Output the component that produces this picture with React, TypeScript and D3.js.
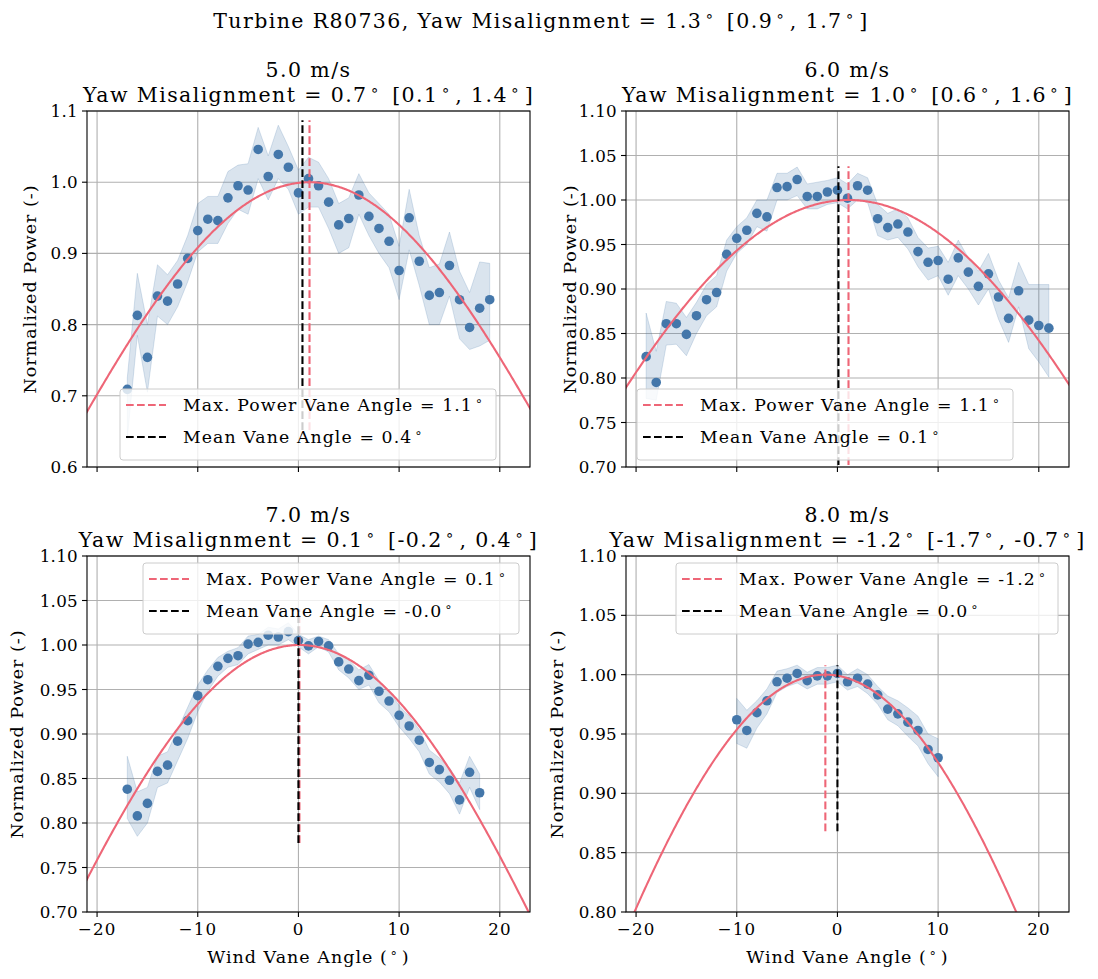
import React from "react";
import * as d3 from "d3";

const FONT = "DejaVu Serif, serif";
const BLUE = "#4477AA";
const RED = "#EE6677";

const SUPTITLE = "Turbine R80736, Yaw Misalignment = 1.3° [0.9°, 1.7°]";
const X_DOMAIN: [number, number] = [-21, 23];
const X_TICKS = [-20, -10, 0, 10, 20];

// 5.0 m/s
const vane5 = [-17, -16, -15, -14, -13, -12, -11, -10, -9, -8, -7, -6, -5, -4, -3, -2, -1, 0, 1, 2, 3, 4, 5, 6, 7, 8, 9, 10, 11, 12, 13, 14, 15, 16, 17, 18, 19];
const power5 = [0.709, 0.813, 0.754, 0.840, 0.833, 0.857, 0.893, 0.932, 0.948, 0.946, 0.978, 0.995, 0.989, 1.046, 1.008, 1.039, 1.021, 0.985, 1.005, 0.995, 0.972, 0.940, 0.949, 0.982, 0.952, 0.935, 0.917, 0.876, 0.950, 0.889, 0.841, 0.845, 0.883, 0.835, 0.796, 0.823, 0.835];
const upper5 = [0.725, 0.872, 0.800, 0.884, 0.870, 0.890, 0.925, 0.970, 0.980, 0.980, 1.015, 1.024, 1.026, 1.077, 1.037, 1.080, 1.050, 1.017, 1.035, 1.028, 1.005, 0.970, 0.978, 1.012, 0.985, 0.970, 0.955, 0.910, 0.990, 0.925, 0.880, 0.885, 0.930, 0.875, 0.845, 0.888, 0.886];
const lower5 = [0.640, 0.785, 0.705, 0.812, 0.800, 0.825, 0.860, 0.902, 0.914, 0.914, 0.942, 0.962, 0.955, 1.005, 0.975, 1.005, 0.990, 0.955, 0.965, 0.965, 0.935, 0.900, 0.908, 0.955, 0.925, 0.900, 0.880, 0.835, 0.905, 0.855, 0.800, 0.800, 0.840, 0.780, 0.765, 0.770, 0.778];

// 6.0 m/s
const vane6 = [-19, -18, -17, -16, -15, -14, -13, -12, -11, -10, -9, -8, -7, -6, -5, -4, -3, -2, -1, 0, 1, 2, 3, 4, 5, 6, 7, 8, 9, 10, 11, 12, 13, 14, 15, 16, 17, 18, 19, 20, 21];
const power6 = [0.824, 0.795, 0.861, 0.861, 0.849, 0.870, 0.888, 0.896, 0.939, 0.957, 0.966, 0.985, 0.981, 1.014, 1.015, 1.023, 1.004, 1.004, 1.009, 1.011, 1.002, 1.016, 1.011, 0.979, 0.969, 0.973, 0.964, 0.942, 0.930, 0.932, 0.911, 0.935, 0.919, 0.903, 0.917, 0.891, 0.867, 0.898, 0.865, 0.859, 0.856];
const upper6 = [0.873, 0.830, 0.886, 0.884, 0.868, 0.885, 0.905, 0.915, 0.955, 0.970, 0.980, 1.000, 1.000, 1.030, 1.030, 1.037, 1.018, 1.020, 1.022, 1.025, 1.018, 1.030, 1.025, 0.995, 0.985, 0.990, 0.980, 0.958, 0.946, 0.948, 0.930, 0.955, 0.935, 0.920, 0.940, 0.910, 0.890, 0.930, 0.905, 0.905, 0.905];
const lower6 = [0.777, 0.775, 0.837, 0.838, 0.825, 0.850, 0.870, 0.880, 0.920, 0.940, 0.950, 0.970, 0.965, 1.000, 1.000, 1.005, 0.990, 0.990, 0.995, 0.997, 0.990, 1.000, 0.997, 0.960, 0.955, 0.958, 0.945, 0.925, 0.910, 0.915, 0.893, 0.915, 0.900, 0.882, 0.900, 0.866, 0.840, 0.880, 0.833, 0.818, 0.801];

// 7.0 m/s
const vane7 = [-17, -16, -15, -14, -13, -12, -11, -10, -9, -8, -7, -6, -5, -4, -3, -2, -1, 0, 1, 2, 3, 4, 5, 6, 7, 8, 9, 10, 11, 12, 13, 14, 15, 16, 17, 18];
const power7 = [0.838, 0.808, 0.822, 0.858, 0.865, 0.892, 0.915, 0.943, 0.961, 0.976, 0.985, 0.988, 1.001, 1.003, 1.011, 1.009, 1.015, 1.005, 0.999, 1.004, 0.999, 0.981, 0.973, 0.960, 0.966, 0.948, 0.937, 0.921, 0.909, 0.893, 0.868, 0.860, 0.848, 0.826, 0.857, 0.834];
const upper7 = [0.875, 0.835, 0.840, 0.875, 0.880, 0.905, 0.930, 0.955, 0.972, 0.986, 0.993, 0.997, 1.010, 1.012, 1.020, 1.018, 1.025, 1.012, 1.006, 1.010, 1.006, 0.990, 0.983, 0.972, 0.978, 0.960, 0.948, 0.932, 0.920, 0.905, 0.882, 0.873, 0.862, 0.845, 0.875, 0.855];
const lower7 = [0.805, 0.785, 0.800, 0.840, 0.845, 0.870, 0.895, 0.925, 0.948, 0.965, 0.975, 0.978, 0.990, 0.995, 1.000, 1.000, 1.006, 0.998, 0.990, 0.998, 0.992, 0.972, 0.963, 0.950, 0.955, 0.935, 0.925, 0.908, 0.895, 0.880, 0.855, 0.846, 0.833, 0.810, 0.840, 0.815];

// 8.0 m/s
const vane8 = [-10, -9, -8, -7, -6, -5, -4, -3, -2, -1, 0, 1, 2, 3, 4, 5, 6, 7, 8, 9, 10];
const power8 = [0.962, 0.953, 0.968, 0.978, 0.994, 0.997, 1.001, 0.995, 0.999, 0.999, 1.001, 0.994, 0.997, 0.992, 0.983, 0.971, 0.967, 0.960, 0.953, 0.937, 0.930];
const upper8 = [0.980, 0.970, 0.978, 0.988, 1.003, 1.005, 1.008, 1.002, 1.006, 1.006, 1.008, 1.000, 1.005, 1.000, 0.990, 0.982, 0.978, 0.972, 0.965, 0.950, 0.946];
const lower8 = [0.942, 0.938, 0.955, 0.967, 0.985, 0.990, 0.993, 0.988, 0.992, 0.992, 0.994, 0.987, 0.990, 0.984, 0.975, 0.962, 0.957, 0.948, 0.940, 0.925, 0.914];

// per-panel summary numbers
const speeds = ["5.0 m/s", "6.0 m/s", "7.0 m/s", "8.0 m/s"];
const yawTitles = [
  "Yaw Misalignment = 0.7° [0.1°, 1.4°]",
  "Yaw Misalignment = 1.0° [0.6°, 1.6°]",
  "Yaw Misalignment = 0.1° [-0.2°, 0.4°]",
  "Yaw Misalignment = -1.2° [-1.7°, -0.7°]",
];
const maxPowerAngle = [1.1, 1.1, 0.1, -1.2];
const meanVaneLabels = ["0.4", "0.1", "-0.0", "0.0"];
const meanVaneAngle = [0.4, 0.1, -0.0, 0.0];
const fitExponent = [5.1, 3.1, 4.4, 4.0];
const vlineSpan: [number, number][] = [[0.652, 1.087], [0.69, 1.038], [0.7775, 1.04], [0.868, 1.008]];
const yDomains: [number, number][] = [[0.6, 1.1], [0.7, 1.1], [0.7, 1.1], [0.8, 1.1]];
const yTickSets = [
  [0.6, 0.7, 0.8, 0.9, 1.0, 1.1],
  [0.7, 0.75, 0.8, 0.85, 0.9, 0.95, 1.0, 1.05, 1.1],
  [0.7, 0.75, 0.8, 0.85, 0.9, 0.95, 1.0, 1.05, 1.1],
  [0.8, 0.85, 0.9, 0.95, 1.0, 1.05, 1.1],
];

const W = 443, H = 356;
const TICK_FS = 16.7, TICK_LS = 0.3;
const LABEL_FS = 17.5, LABEL_LS = 1.0;
const LEG_FS = 17.3, LEG_LS = 1.1;
const TITLE_FS = 20.5, TITLE_LS = 1.4;

// renders "°" as a raised small ring, like matplotlib mathtext $^\circ$
function Deg({ text, size }: { text: string; size: number }) {
  const parts = text.split("°");
  const out: any[] = [];
  parts.forEach((p, i) => {
    if (p.length)
      out.push(
        <tspan key={"t" + i} dx={i > 0 ? size * 0.18 : undefined} dy={i > 0 ? size * 0.36 : undefined}>{p}</tspan>
      );
    if (i < parts.length - 1)
      out.push(
        <tspan key={"d" + i} fontFamily="DejaVu Sans" fontSize={size * 0.72} dx={size * 0.12} dy={-size * 0.36}>∘</tspan>
      );
  });
  return <>{out}</>;
}

function Panel(props: any) {
  const { idx, left, top, vane, power, lower, upper, yFmt, yLabelX, showX, legendBox } = props;
  const x = d3.scaleLinear().domain(X_DOMAIN).range([0, W]);
  const y = d3.scaleLinear().domain(yDomains[idx]).range([H, 0]);
  const band = d3.area<number>()
    .x((_, i) => x(vane[i]))
    .y0((_, i) => y(lower[i]))
    .y1((_, i) => y(upper[i]));
  const fit = d3.line<number>()
    .x((d) => x(d))
    .y((d) => y(Math.pow(Math.cos(((d - maxPowerAngle[idx]) * Math.PI) / 180), fitExponent[idx])));
  const curveX = d3.range(X_DOMAIN[0] - 0.5, X_DOMAIN[1] + 0.5, 0.1);
  const clip = "clip" + idx;
  const [v0, v1] = vlineSpan[idx];
  const dash = "7.7,3.3";
  const lg = legendBox;
  return (
    <g transform={`translate(${left},${top})`}>
      <defs>
        <clipPath id={clip}>
          <rect x={0} y={0} width={W} height={H} />
        </clipPath>
      </defs>
      {X_TICKS.map((t) => (
        <line key={"gx" + t} x1={x(t)} x2={x(t)} y1={0} y2={H} stroke="#b0b0b0" strokeWidth={1.1} />
      ))}
      {yTickSets[idx].map((t) => (
        <line key={"gy" + t} x1={0} x2={W} y1={y(t)} y2={y(t)} stroke="#b0b0b0" strokeWidth={1.1} />
      ))}
      <g clipPath={`url(#${clip})`}>
        <path d={band(power) || ""} fill={BLUE} fillOpacity={0.2} stroke={BLUE} strokeOpacity={0.2} strokeWidth={1} />
        {power.map((p: number, i: number) => (
          <circle key={i} cx={x(vane[i])} cy={y(p)} r={4.8} fill={BLUE} />
        ))}
        <path d={fit(curveX) || ""} fill="none" stroke={RED} strokeWidth={2.1} />
        <line x1={x(maxPowerAngle[idx])} x2={x(maxPowerAngle[idx])} y1={y(v0)} y2={y(v1)} stroke={RED} strokeWidth={2.1} strokeDasharray={dash} />
        <line x1={x(meanVaneAngle[idx])} x2={x(meanVaneAngle[idx])} y1={y(v0)} y2={y(v1)} stroke="#000" strokeWidth={2.1} strokeDasharray={dash} />
      </g>
      <rect x={0} y={0} width={W} height={H} fill="none" stroke="#000" strokeWidth={1.1} />
      {X_TICKS.map((t) => (
        <g key={"xt" + t}>
          <line x1={x(t)} x2={x(t)} y1={H} y2={H + 5} stroke="#000" strokeWidth={1.1} />
          {showX && (
            <text x={x(t) + TICK_LS / 2} y={H + 23} textAnchor="middle" fontFamily={FONT} fontSize={TICK_FS} letterSpacing={1.2}>
              {t < 0 ? "\u2212" + Math.abs(t) : String(t)}
            </text>
          )}
        </g>
      ))}
      {yTickSets[idx].map((t) => (
        <g key={"yt" + t}>
          <line x1={-5} x2={0} y1={y(t)} y2={y(t)} stroke="#000" strokeWidth={1.1} />
          <text x={-9} y={y(t) + 6} textAnchor="end" fontFamily={FONT} fontSize={TICK_FS} letterSpacing={TICK_LS}>
            {d3.format(yFmt)(t)}
          </text>
        </g>
      ))}
      {showX && (
        <text x={W / 2} y={H + 51} textAnchor="middle" fontFamily={FONT} fontSize={LABEL_FS} letterSpacing={LABEL_LS}>
          <Deg text="Wind Vane Angle (°)" size={LABEL_FS} />
        </text>
      )}
      <text
        transform={`translate(${yLabelX},${H / 2}) rotate(-90)`}
        textAnchor="middle"
        dy={6}
        fontFamily={FONT}
        fontSize={LABEL_FS}
        letterSpacing={LABEL_LS}
      >
        Normalized Power (-)
      </text>
      <text x={W / 2} y={-34} textAnchor="middle" fontFamily={FONT} fontSize={TITLE_FS} letterSpacing={TITLE_LS}>
        {speeds[idx]}
      </text>
      <text x={W / 2} y={-9} textAnchor="middle" fontFamily={FONT} fontSize={TITLE_FS} letterSpacing={TITLE_LS}>
        <Deg text={yawTitles[idx]} size={TITLE_FS} />
      </text>
      <g transform={`translate(${lg.x - left},${lg.y - top})`}>
        <rect x={0} y={0} width={lg.w} height={71} rx={3} fill="#fff" fillOpacity={0.8} stroke="#cccccc" strokeWidth={1} />
        <line x1={6} x2={46} y1={16} y2={16} stroke={RED} strokeWidth={2.1} strokeDasharray={dash} />
        <line x1={6} x2={46} y1={48} y2={48} stroke="#000" strokeWidth={2.1} strokeDasharray={dash} />
        <text x={63} y={22} fontFamily={FONT} fontSize={LEG_FS} letterSpacing={LEG_LS}>
          <Deg text={`Max. Power Vane Angle = ${maxPowerAngle[idx].toFixed(1)}°`} size={LEG_FS} />
        </text>
        <text x={63} y={54} fontFamily={FONT} fontSize={LEG_FS} letterSpacing={LEG_LS}>
          <Deg text={`Mean Vane Angle = ${meanVaneLabels[idx]}°`} size={LEG_FS} />
        </text>
      </g>
    </g>
  );
}

export default function App() {
  return (
    <svg
      width={1098}
      height={979}
      style={{ position: "absolute", left: 0, top: 0, background: "#fff" }}
    >
      <text x={541} y={28} textAnchor="middle" fontFamily={FONT} fontSize={TITLE_FS} letterSpacing={TITLE_LS}>
        <Deg text={SUPTITLE} size={TITLE_FS} />
      </text>
      <Panel idx={0} left={87} top={111} vane={vane5} power={power5} lower={lower5} upper={upper5}
        yFmt=".1f" yLabelX={-57} showX={false} legendBox={{ x: 120, y: 389, w: 376 }} />
      <Panel idx={1} left={626} top={111} vane={vane6} power={power6} lower={lower6} upper={upper6}
        yFmt=".2f" yLabelX={-56} showX={false} legendBox={{ x: 637, y: 389, w: 376 }} />
      <Panel idx={2} left={87} top={556} vane={vane7} power={power7} lower={lower7} upper={upper7}
        yFmt=".2f" yLabelX={-70} showX={true} legendBox={{ x: 143, y: 563, w: 376 }} />
      <Panel idx={3} left={626} top={556} vane={vane8} power={power8} lower={lower8} upper={upper8}
        yFmt=".2f" yLabelX={-69} showX={true} legendBox={{ x: 676, y: 563, w: 382 }} />
    </svg>
  );
}
